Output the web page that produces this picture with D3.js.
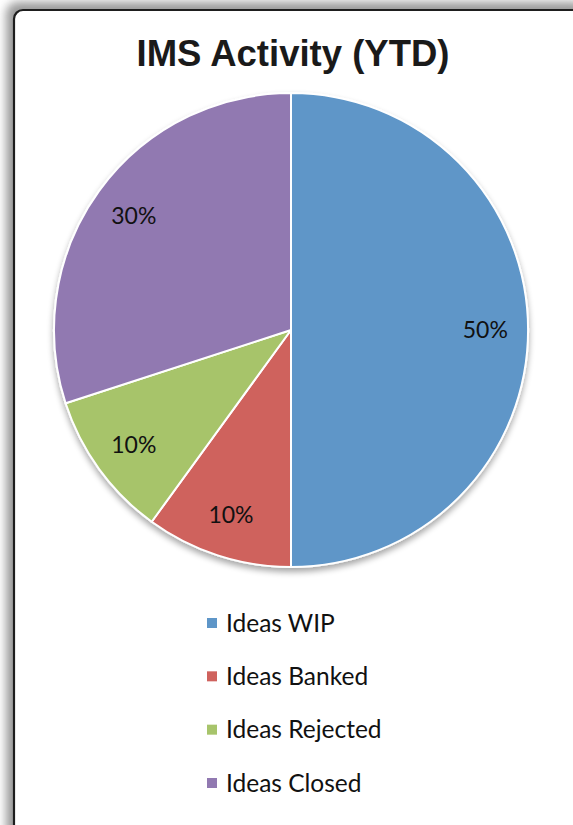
<!DOCTYPE html>
<html>
<head>
<meta charset="utf-8">
<script src="https://cdn.jsdelivr.net/npm/d3@7"></script>
<style>
  body { margin: 0; background: #fff; }
  svg { display: block; }
</style>
</head>
<body>
<div class="pie_chart"></div>
<script>
// chart data
const categories = ["Ideas WIP", "Ideas Banked", "Ideas Rejected", "Ideas Closed"];
const shares = [50, 10, 10, 30];
const sliceColors = ["#5e96c8", "#cf625d", "#a7c46b", "#9179b1"];

const width = 573, height = 825;

const svg = d3.select(".pie_chart")
              .append("svg")
              .attr("width", width)
              .attr("height", height);

const defs = svg.append("defs");

const boxShadow = defs.append("filter")
                      .attr("id", "boxShadow")
                      .attr("x", "-10%").attr("y", "-10%")
                      .attr("width", "120%").attr("height", "120%");
boxShadow.append("feGaussianBlur").attr("stdDeviation", 5);

const pieShadow = defs.append("filter")
                      .attr("id", "pieShadow")
                      .attr("x", "-10%").attr("y", "-10%")
                      .attr("width", "120%").attr("height", "125%");
pieShadow.append("feGaussianBlur").attr("in", "SourceAlpha").attr("stdDeviation", 3).attr("result", "blur");
pieShadow.append("feOffset").attr("dx", 0).attr("dy", 4).attr("result", "off");
pieShadow.append("feComponentTransfer").append("feFuncA").attr("type", "linear").attr("slope", 0.35);
const merge = pieShadow.append("feMerge");
merge.append("feMergeNode");
merge.append("feMergeNode").attr("in", "SourceGraphic");

// frame with shadow on top/left
svg.append("rect")
   .attr("x", 6).attr("y", 2)
   .attr("width", 580).attr("height", 840)
   .attr("rx", 12)
   .attr("fill", "#9a9a9a")
   .attr("filter", "url(#boxShadow)");

svg.append("rect")
   .attr("x", 14).attr("y", 10)
   .attr("width", 575).attr("height", 830)
   .attr("rx", 9)
   .attr("fill", "#fff")
   .attr("stroke", "#1e1e1e")
   .attr("stroke-width", 2.2);

svg.append("text")
   .text("IMS Activity (YTD)")
   .attr("x", 293)
   .attr("y", 66)
   .attr("text-anchor", "middle")
   .attr("font-family", "Liberation Sans, Arial, sans-serif")
   .attr("font-weight", "bold")
   .attr("font-size", 36.5)
   .attr("fill", "#1a1a1a");

// pie
const radius = 237;
const pie = d3.pie().sort(null).value(d => d.value);
const arcs = pie(categories.map((c, i) => ({ name: c, value: shares[i], color: sliceColors[i] })));
const arc = d3.arc().innerRadius(0).outerRadius(radius);
const labelArc = d3.arc().innerRadius(radius * 0.82).outerRadius(radius * 0.82);
const total = d3.sum(shares);

const pieG = svg.append("g")
                .attr("transform", "translate(291, 330)");

pieG.append("g")
    .attr("filter", "url(#pieShadow)")
    .selectAll("path")
    .data(arcs).enter()
    .append("path")
    .attr("d", arc)
    .attr("fill", d => d.data.color)
    .attr("stroke", "#fff")
    .attr("stroke-width", 2)
    .attr("stroke-linejoin", "round");

pieG.selectAll(".pctLabel")
    .data(arcs).enter()
    .append("text")
    .attr("class", "pctLabel")
    .attr("transform", d => "translate(" + labelArc.centroid(d) + ")")
    .attr("text-anchor", "middle")
    .attr("dy", "0.36em")
    .attr("font-family", "Lato, sans-serif")
    .attr("font-size", 23)
    .attr("fill", "#111")
    .text(d => Math.round(d.data.value / total * 100) + "%");

// legend
const legendY = d3.scalePoint()
                  .domain(categories)
                  .range([623, 783]);

const legend = svg.selectAll(".legendItem")
                  .data(categories).enter()
                  .append("g")
                  .attr("class", "legendItem")
                  .attr("transform", d => "translate(207, " + legendY(d) + ")");

legend.append("rect")
      .attr("x", 0).attr("y", -5)
      .attr("width", 10).attr("height", 10)
      .attr("fill", (d, i) => sliceColors[i]);

legend.append("text")
      .attr("x", 19)
      .attr("dy", "0.36em")
      .attr("font-family", "Lato, sans-serif")
      .attr("font-size", 24.5)
      .attr("fill", "#111")
      .text(d => d);
</script>
</body>
</html>
